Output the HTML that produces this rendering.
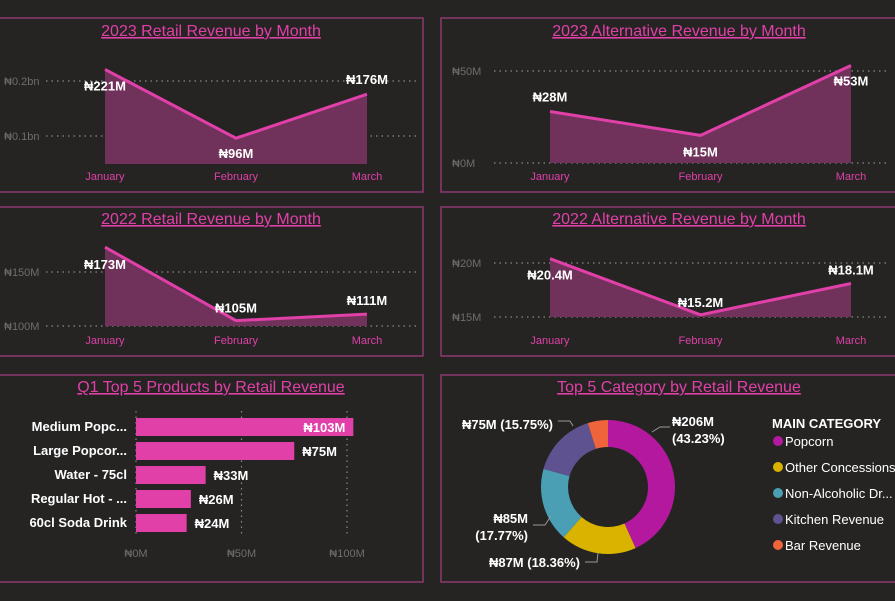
<!DOCTYPE html>
<html><head><meta charset="utf-8"><style>
body{margin:0;background:#252423;width:895px;height:596px;overflow:hidden;font-family:"Liberation Sans",sans-serif}
svg text{font-family:"Liberation Sans",sans-serif}
.t{fill:#e040a8;font-size:16px;text-decoration:underline}
.ax{fill:#6e6e6e;font-size:11px}
.mx{fill:#e040a8;font-size:11px}
.lb{fill:#fff;font-size:13px;font-weight:bold}
.gl{stroke:#8a8a8a;stroke-dasharray:1.5 4;stroke-width:1.2}
</style></head><body>
<svg id="c" width="895" height="596">
<rect x="-2" y="18" width="425" height="174" fill="none" stroke="#8b3a6f" stroke-width="1.5"/>
<rect x="441" y="18" width="460" height="174" fill="none" stroke="#8b3a6f" stroke-width="1.5"/>
<rect x="-2" y="207" width="425" height="149" fill="none" stroke="#8b3a6f" stroke-width="1.5"/>
<rect x="441" y="207" width="460" height="149" fill="none" stroke="#8b3a6f" stroke-width="1.5"/>
<rect x="-2" y="375" width="425" height="207" fill="none" stroke="#8b3a6f" stroke-width="1.5"/>
<rect x="441" y="375" width="460" height="207" fill="none" stroke="#8b3a6f" stroke-width="1.5"/>
<text class="t" x="211" y="36" text-anchor="middle">2023 Retail Revenue by Month</text>
<text class="t" x="679" y="36" text-anchor="middle">2023 Alternative Revenue by Month</text>
<text class="t" x="211" y="224" text-anchor="middle">2022 Retail Revenue by Month</text>
<text class="t" x="679" y="224" text-anchor="middle">2022 Alternative Revenue by Month</text>
<text class="t" x="211" y="392" text-anchor="middle">Q1 Top 5 Products by Retail Revenue</text>
<text class="t" x="679" y="392" text-anchor="middle">Top 5 Category by Retail Revenue</text>
<g id="g"></g>
</svg>
<script>
const months=["January","February","March"];
const rev2023Retail=[221,96,176];
const rev2023Alt=[28,15,53];
const rev2022Retail=[173,105,111];
const rev2022Alt=[20.4,15.2,18.1];
const labels2023Retail=["₦221M","₦96M","₦176M"];
const labels2023Alt=["₦28M","₦15M","₦53M"];
const labels2022Retail=["₦173M","₦105M","₦111M"];
const labels2022Alt=["₦20.4M","₦15.2M","₦18.1M"];
const ticks2023Retail=[100,200],tickLbl2023Retail=["₦0.1bn","₦0.2bn"];
const ticks2023Alt=[0,50],tickLbl2023Alt=["₦0M","₦50M"];
const ticks2022Retail=[100,150],tickLbl2022Retail=["₦100M","₦150M"];
const ticks2022Alt=[15,20],tickLbl2022Alt=["₦15M","₦20M"];
const products=["Medium Popc...","Large Popcor...","Water - 75cl","Regular Hot - ...","60cl Soda Drink"];
const productRev=[103,75,33,26,24];
const productTicks=[0,50,100];
const categories=["Popcorn","Other Concessions","Non-Alcoholic Dr...","Kitchen Revenue","Bar Revenue"];
const categoryRev=[206,87,85,75,23.3];
const categoryLbl=["₦206M|(43.23%)","₦87M (18.36%)","₦85M|(17.77%)","₦75M (15.75%)",""];

const NS="http://www.w3.org/2000/svg",G=document.getElementById('g');
function mk(t,a,txt){const e=document.createElementNS(NS,t);for(const k in a)e.setAttribute(k,a[k]);if(txt!=null)e.textContent=txt;G.appendChild(e);return e;}

function lineChart(name,vals,lbls,ticks,tlbl,x0,x1,v0,y0,v1,y1,bottom,axX,gridX1,lblOff,mY){
  const y=v=>y0+(v-v0)*(y1-y0)/(v1-v0);
  const x=i=>x0+i*(x1-x0)/(vals.length-1);
  ticks.forEach((t,i)=>{
    let l=mk('line',{x1:axX+42,x2:gridX1,y1:y(t),y2:y(t),class:'gl'});
    
    let tx=mk('text',{x:axX,y:y(t)+4,class:'ax'},tlbl[i]);
    
  });
  let pts=vals.map((v,i)=>x(i)+','+y(v)).join(' ');
  let a=mk('polygon',{points:x(0)+','+bottom+' '+pts+' '+x(vals.length-1)+','+bottom,fill:'#70315a'});
  
  let p=mk('polyline',{points:pts,fill:'none',stroke:'#e040a8','stroke-width':3});
  
  vals.forEach((v,i)=>{
    let t=mk('text',{x:x(i),y:y(v)+lblOff[i],class:'lb','text-anchor':'middle'},lbls[i]);
    
    let m=mk('text',{x:x(i),y:mY,class:'mx','text-anchor':'middle'},months[i]);
    
  });
}
lineChart('rev-2023-retail',rev2023Retail,labels2023Retail,ticks2023Retail,tickLbl2023Retail,105,367,100,136,200,81,164,4,420,[21,20,-10],180);
lineChart('rev-2023-alt',rev2023Alt,labels2023Alt,ticks2023Alt,tickLbl2023Alt,550,851,0,163,50,71,163,452,890,[-10,21,20],180);
lineChart('rev-2022-retail',rev2022Retail,labels2022Retail,ticks2022Retail,tickLbl2022Retail,105,367,100,326,150,272,326,4,420,[22,-8,-9],344);
lineChart('rev-2022-alt',rev2022Alt,labels2022Alt,ticks2022Alt,tickLbl2022Alt,550,851,15,317,20,263,317,452,890,[21,-8,-9],344);

// bar chart
const bx=v=>136+v*2.11;
productTicks.forEach(t=>{
  let l=mk('line',{x1:bx(t),x2:bx(t),y1:411,y2:537,class:'gl'});
  
  let tx=mk('text',{x:bx(t),y:557,class:'ax','text-anchor':'middle'},'₦'+t+'M');
  
});
products.forEach((p,i)=>{
  const cy=427+i*24;
  let r=mk('rect',{x:136,y:cy-9,width:bx(productRev[i])-136,height:18,fill:'#e040a8'});
  
  let t=mk('text',{x:127,y:cy+4,class:'lb','text-anchor':'end','font-size':'12'},p);
  
  const inside=i===0;
  let v=mk('text',{x:inside?bx(productRev[i])-8:bx(productRev[i])+8,y:cy+5,class:'lb','text-anchor':inside?'end':'start'},'₦'+productRev[i]+'M');
  
});

// donut
const colors=["#b4189e","#d9b300","#4a9fb5","#5e5390","#f0643c"];
const cx=608,cy=487,R=67,r0=40;
const tot=categoryRev.reduce((a,b)=>a+b,0);
let ang=0;
const lblPos=[[672,426,'start'],[580,567,'end'],[528,523,'end'],[553,429,'end']];
categoryRev.forEach((v,i)=>{
  const a0=ang,a1=ang+v/tot*2*Math.PI;ang=a1;
  const P=(rr,a)=>[cx+rr*Math.sin(a),cy-rr*Math.cos(a)];
  const [x0,y0]=P(R,a0),[x1,y1]=P(R,a1),[x2,y2]=P(r0,a1),[x3,y3]=P(r0,a0);
  const lg=(a1-a0)>Math.PI?1:0;
  let s=mk('path',{d:`M${x0},${y0}A${R},${R} 0 ${lg} 1 ${x1},${y1}L${x2},${y2}A${r0},${r0} 0 ${lg} 0 ${x3},${y3}Z`,fill:colors[i]});
  
  if(categoryLbl[i]){
    const parts=categoryLbl[i].split('|'),lp=lblPos[i];
    parts.forEach((pt,j)=>{
      let t=mk('text',{x:lp[0],y:lp[1]+j*17,class:'lb','font-size':'12','text-anchor':lp[2]},pt);
      
    });
  }
  const ly=445+i*26;
  let d=mk('circle',{cx:778,cy:ly-4,r:5,fill:colors[i]});
  
  let lt=mk('text',{x:785,y:ly+1,fill:'#fff','font-size':'13'},categories[i]);
  
});
const lt=mk('text',{x:772,y:428,class:'lb','font-size':'14'},'MAIN CATEGORY');


// leader lines
[[652,432,660,427,670,427],[598,553,597,562,585,562],[551,516,545,525,533,525],[573,426,570,421,558,421]].forEach(q=>{
  let l=mk('polyline',{points:`${q[0]},${q[1]} ${q[2]},${q[3]} ${q[4]},${q[5]}`,fill:'none',stroke:'#999','stroke-width':1});
  
});
</script>
</body></html>
